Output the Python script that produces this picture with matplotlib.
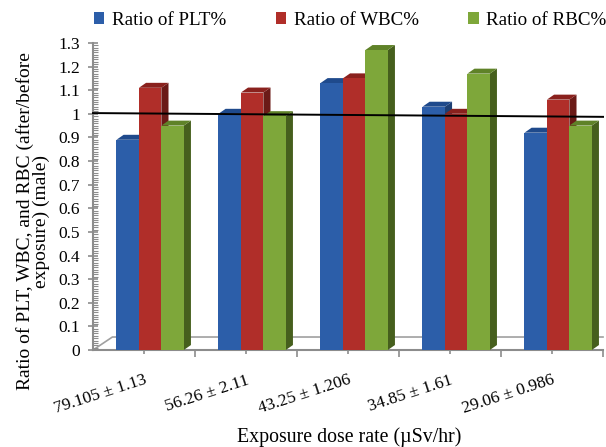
import matplotlib
matplotlib.use('Agg')
import matplotlib.pyplot as plt
from matplotlib.patches import Polygon
import numpy as np

# data
doses = ['79.105 ± 1.13', '56.26 ± 2.11', '43.25 ± 1.206', '34.85 ± 1.61', '29.06 ± 0.986']
plt_ratio = [0.89, 1.00, 1.13, 1.03, 0.92]
wbc_ratio = [1.11, 1.09, 1.15, 1.00, 1.06]
rbc_ratio = [0.95, 0.99, 1.27, 1.17, 0.95]
series_names = ['Ratio of PLT%', 'Ratio of WBC%', 'Ratio of RBC%']
ref_line = [1.003, 0.987]
y_ticks = [0, 0.1, 0.2, 0.3, 0.4, 0.5, 0.6, 0.7, 0.8, 0.9, 1.0, 1.1, 1.2, 1.3]
y_tick_labels = ['0', '0.1', '0.2', '0.3', '0.4', '0.5', '0.6', '0.7', '0.8', '0.9', '1', '1.1', '1.2', '1.3']

# front, side, top colours per series
colors = [
    ('#2c5ea9', '#1d3f73', '#1f4a8c'),
    ('#b02e29', '#6b1a17', '#8a211d'),
    ('#7ea73a', '#465f1d', '#5f8228'),
]

plt.rcParams['font.family'] = ['Liberation Serif', 'DejaVu Serif']

fig = plt.figure(figsize=(6.06, 4.47), dpi=100)
ax = fig.add_axes([0.1535, 0.217, 0.8416, 0.687])

n = len(doses)
x = np.arange(n)
w = 0.22
shift = 0.06
dx, dy = 0.07, 0.021

ax.set_xlim(-0.5, n - 0.5)
ax.set_ylim(0, 1.3)

# floor of the 3d box
ax.plot([-0.5, -0.31, n - 0.5], [0, 0.055, 0.055], color='#a0a0a0', lw=1.2,
        clip_on=False, zorder=1)

handles = []
for i, vals in enumerate([plt_ratio, wbc_ratio, rbc_ratio]):
    front, side, top = colors[i]
    for j, h in enumerate(vals):
        x0 = x[j] + shift + (i - 1) * w - w / 2
        z = 3 + i
        ax.add_patch(Polygon([(x0 + w, 0), (x0 + w + dx, dy), (x0 + w + dx, h + dy), (x0 + w, h)],
                             closed=True, facecolor=side, edgecolor='none', zorder=z))
        ax.add_patch(Polygon([(x0, h), (x0 + dx, h + dy), (x0 + w + dx, h + dy), (x0 + w, h)],
                             closed=True, facecolor=top, edgecolor='none', zorder=z))
    b = ax.bar(x + shift + (i - 1) * w, vals, width=w, color=front, edgecolor='none',
               zorder=3 + i, label=series_names[i])
    handles.append(b)

ax.plot([-0.5, n - 0.5], ref_line, color='black', lw=1.4, zorder=10, clip_on=False)

# axes styling
for s in ['top', 'right']:
    ax.spines[s].set_visible(False)
for s in ['left', 'bottom']:
    ax.spines[s].set_color('#8c8c8c')
    ax.spines[s].set_linewidth(1.5)

ax.set_yticks(y_ticks)
ax.set_yticklabels(y_tick_labels, fontsize=12.5)
ax.set_yticks(np.arange(0, 1.3001, 0.01), minor=True)
ax.tick_params(axis='y', which='major', direction='inout', length=7, width=1.2,
               color='#8c8c8c', pad=6)
ax.tick_params(axis='y', which='minor', direction='in', length=3.5, width=0.8,
               color='#8c8c8c')

ax.set_xticks(x)
ax.set_xticklabels(doses, rotation=18, ha='right', rotation_mode='anchor', fontsize=12.5)
ax.set_xticks(np.arange(-0.5, n, 0.5)[1:], minor=True)
ax.tick_params(axis='x', which='major', direction='inout', length=6, width=1.2,
               color='#8c8c8c', pad=13)
ax.tick_params(axis='x', which='minor', direction='out', length=5, width=1.2,
               color='#8c8c8c')

ax.set_ylabel('Ratio of PLT, WBC, and RBC (after/before\nexposure) (male)', fontsize=14,
              linespacing=0.9)
ax.yaxis.set_label_coords(-0.085, 0.42)
ax.set_xlabel('Exposure dose rate (\u00b5Sv/hr)', fontsize=14.3)
ax.xaxis.set_label_coords(0.503, -0.252)

leg = fig.legend(handles=handles, loc='upper center', bbox_to_anchor=(0.578, 1.012), ncol=3,
                 frameon=False, fontsize=13.7, handlelength=0.55, handleheight=0.55,
                 handletextpad=0.4, columnspacing=2.6)

fig.savefig('out.png', dpi=100)
